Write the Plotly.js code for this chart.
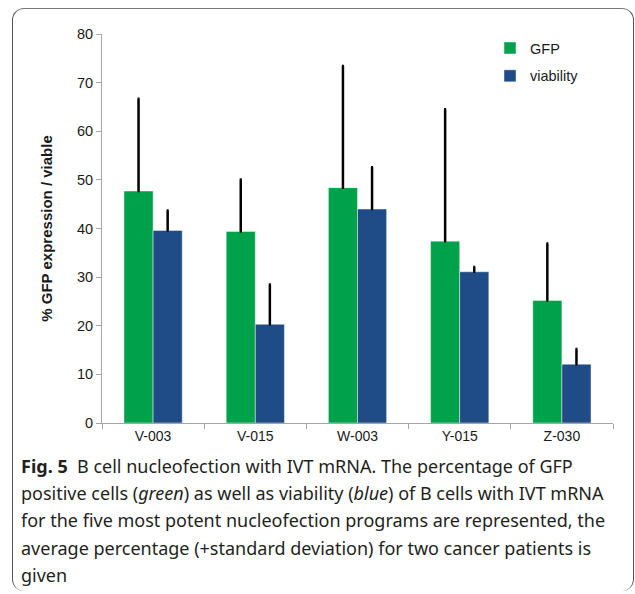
<!DOCTYPE html>
<html>
<head>
<meta charset="utf-8">
<script src="https://cdn.plot.ly/plotly-3.0.1.min.js"></script>
<style>
  html, body { margin: 0; padding: 0; background: #fff; overflow: hidden; }
  #wrap { position: relative; width: 635px; height: 594px; }
  #chart { position: absolute; left: 0; top: 0; width: 635px; height: 594px; }
  #frame { position: absolute; left: 12px; top: 8px; width: 620px; height: 582px;
           border-left: 1.5px solid #555; border-top: 1.5px solid #777; border-right: 1.5px solid #555;
           border-radius: 12px; pointer-events: none; }
</style>
</head>
<body>
<div id="wrap">
  <div id="chart"></div>
  <div id="frame"></div>
</div>
<script>
// Data
const programs = ["V-003", "V-015", "W-003", "Y-015", "Z-030"];
const gfpMean = [47.7, 39.4, 48.4, 37.4, 25.2];
const gfpSD = [19.0, 10.7, 25.0, 27.1, 11.7];
const viabilityMean = [39.6, 20.3, 44.0, 31.1, 12.1];
const viabilitySD = [4.1, 8.2, 8.6, 1.0, 3.1];
const zeros = [0, 0, 0, 0, 0];

const captionLines = [
  "<b>Fig. 5</b>  B cell nucleofection with IVT mRNA. The percentage of GFP",
  "positive cells (<i>green</i>) as well as viability (<i>blue</i>) of B cells with IVT mRNA",
  "for the five most potent nucleofection programs are represented, the",
  "average percentage (+standard deviation) for two cancer patients is",
  "given"
];

const errStyle = { color: "#000", thickness: 2.5, width: 1 };

const traces = [
  {
    type: "bar", name: "GFP", x: programs, y: gfpMean, legendgroup: "a",
    marker: { color: "#00A14B", line: { color: "rgba(255,255,255,0.45)", width: 1 } },
    error_y: Object.assign({ type: "data", symmetric: false, array: gfpSD, arrayminus: zeros }, errStyle),
    hoverinfo: "x+y"
  },
  {
    type: "bar", name: "viability", x: programs, y: viabilityMean, legendgroup: "b",
    marker: { color: "#1F4B87", line: { color: "rgba(255,255,255,0.45)", width: 1 } },
    error_y: Object.assign({ type: "data", symmetric: false, array: viabilitySD, arrayminus: zeros }, errStyle),
    hoverinfo: "x+y"
  }
];

const plotW = 511, plotH = 389, mL = 102, mT = 34;
const annotations = captionLines.map((t, i) => ({
  xref: "paper", yref: "paper",
  x: (19 - mL) / plotW,
  y: (mT + plotH - (466 + i * 27.2)) / plotH,
  xanchor: "left", yanchor: "middle", align: "left",
  showarrow: false, text: t,
  font: { family: "Noto Sans, Open Sans, sans-serif", size: 18, color: "#231f20" }
}));

const layout = {
  width: 635, height: 594,
  margin: { l: mL, r: 635 - mL - plotW, t: mT, b: 594 - mT - plotH, pad: 0 },
  paper_bgcolor: "#fff", plot_bgcolor: "#fff",
  barmode: "group", bargap: 0.43, bargroupgap: 0,
  font: { family: "Liberation Sans, Arial, sans-serif", size: 14, color: "#1a1a1a" },
  xaxis: {
    type: "category", showline: true, linecolor: "#a6a6a6", linewidth: 1,
    ticks: "outside", tickson: "boundaries", ticklen: 5, tickcolor: "#a6a6a6",
    showgrid: false, zeroline: false, tickfont: { size: 14 }
  },
  yaxis: {
    range: [0, 80], dtick: 10, showline: true, linecolor: "#a6a6a6", linewidth: 1,
    ticks: "outside", ticklen: 5, tickcolor: "#a6a6a6", showgrid: false, zeroline: false,
    tickfont: { size: 14.5 },
    title: { text: "<b>% GFP expression / viable</b>", font: { size: 15 }, standoff: 20 }
  },
  legend: {
    x: (490 - mL) / plotW, y: 1.005, xanchor: "left", yanchor: "top",
    bgcolor: "rgba(0,0,0,0)", font: { size: 14.5 }, traceorder: "grouped",
    tracegroupgap: 6, itemwidth: 30
  },
  showlegend: true,
  annotations: annotations
};

Plotly.newPlot("chart", traces, layout, { displayModeBar: false, staticPlot: true });
</script>
</body>
</html>
